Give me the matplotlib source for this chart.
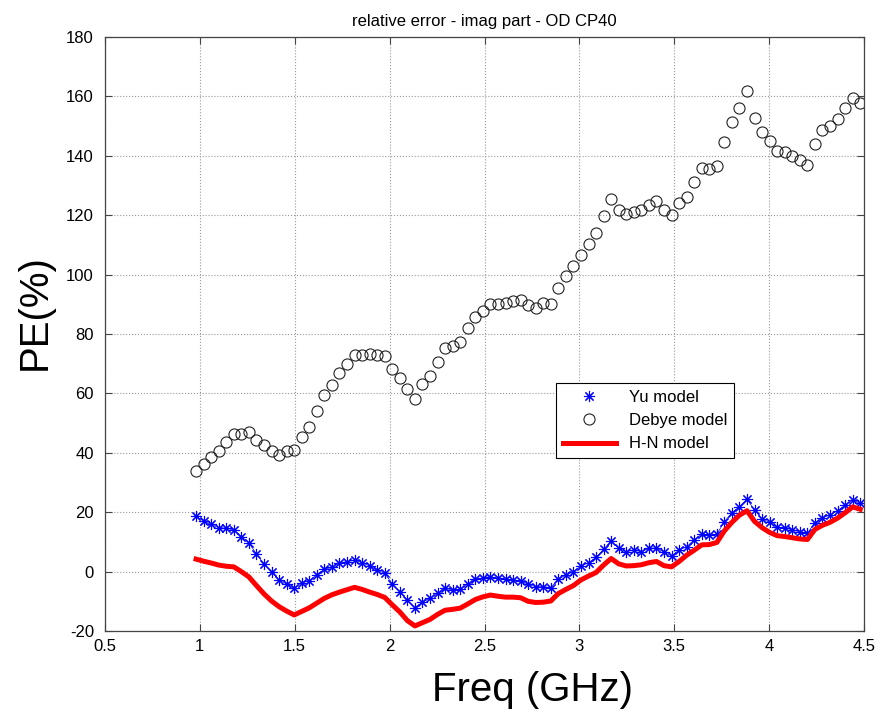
import numpy as np
import matplotlib
matplotlib.use('Agg')
import matplotlib.pyplot as plt

plt.rcParams['font.family'] = ['Liberation Sans', 'DejaVu Sans']
plt.rcParams['axes.unicode_minus'] = False

# frequency grid (GHz)
freq = np.linspace(0.98, 4.48, 89)

yu = [18.7, 17.0, 15.9, 14.8, 14.6, 14.0, 11.8, 9.7, 5.9, 2.6,
      -0.2, -2.8, -4.2, -5.6, -3.7, -3.1, -1.1, 0.8, 1.4, 3.0,
      3.3, 3.9, 3.0, 1.9, 0.5, -0.6, -4.2, -6.8, -9.6, -12.1,
      -10.3, -9.0, -7.3, -5.6, -6.2, -5.9, -4.2, -2.6, -2.1, -1.7,
      -2.3, -2.6, -2.8, -3.1, -4.3, -5.1, -5.1, -5.4, -2.6, -1.1,
      0.0, 1.9, 3.0, 4.8, 7.5, 10.3, 7.8, 6.7, 7.3, 6.7,
      7.8, 8.0, 6.5, 5.3, 7.3, 8.4, 10.6, 12.7, 12.3, 12.6,
      16.8, 19.8, 21.9, 24.4, 20.7, 17.7, 16.6, 14.9, 14.8, 14.0,
      13.4, 12.9, 16.5, 18.1, 19.1, 20.5, 22.4, 24.1, 23.0]

debye = [34.0, 36.2, 38.5, 40.5, 43.5, 46.2, 46.2, 46.9, 44.3, 42.5,
         40.7, 39.3, 40.6, 40.9, 45.2, 48.6, 54.2, 59.5, 62.8, 67.0,
         69.8, 72.8, 72.9, 73.3, 72.9, 72.6, 68.1, 65.1, 61.5, 58.1,
         63.2, 65.9, 70.7, 75.2, 76.0, 77.4, 82.1, 85.8, 87.7, 90.0,
         90.0, 90.3, 91.1, 91.4, 89.8, 88.9, 90.3, 90.1, 95.4, 99.5,
         102.9, 106.6, 110.2, 113.9, 119.7, 125.5, 121.8, 120.3, 121.0, 121.8,
         123.4, 124.8, 121.8, 120.1, 124.0, 126.0, 131.3, 136.0, 135.7, 136.7,
         144.7, 151.3, 156.2, 161.9, 152.8, 148.0, 145.0, 141.7, 141.3, 139.9,
         138.6, 137.0, 143.9, 148.7, 150.1, 152.3, 156.2, 159.4, 157.9]

hn = [4.2, 3.5, 2.9, 2.2, 1.8, 1.6, 0.0, -1.8, -4.7, -7.5,
      -9.9, -11.8, -13.3, -14.6, -13.4, -12.2, -10.6, -9.0, -7.8, -6.9,
      -6.1, -5.3, -6.0, -6.9, -7.7, -8.7, -11.2, -13.6, -16.5, -18.3,
      -17.2, -16.1, -14.4, -13.0, -12.7, -12.3, -10.9, -9.4, -8.5, -7.9,
      -8.3, -8.6, -8.6, -8.8, -10.0, -10.4, -10.3, -9.9, -7.4, -6.0,
      -4.7, -2.8, -1.5, -0.3, 2.2, 4.4, 2.6, 1.9, 2.0, 2.3,
      3.0, 3.4, 2.0, 1.6, 3.4, 5.5, 7.2, 9.0, 9.1, 9.8,
      13.7, 16.6, 19.0, 20.5, 16.9, 14.8, 13.2, 12.1, 11.8, 11.4,
      11.0, 10.8, 14.2, 15.6, 16.6, 18.0, 19.8, 21.8, 21.0]

xticks = [0.5, 1, 1.5, 2, 2.5, 3, 3.5, 4, 4.5]
xticklabels = ['0.5', '1', '1.5', '2', '2.5', '3', '3.5', '4', '4.5']
yticks = list(range(-20, 181, 20))

fig = plt.figure(figsize=(8.81, 7.12), dpi=100)
ax = fig.add_axes([105/881, 1 - 631/712, 759/881, 594/712])

star = (8, 2, 0)
ax.plot(freq, yu, '-', color='blue', lw=0.5)
ax.plot(freq, yu, linestyle='none', marker=star, ms=8, mew=0.8,
        color='blue', label='Yu model')
ax.plot(freq, debye, linestyle='none', marker='o', ms=8, mfc='none',
        mec='#222222', mew=0.8, label='Debye model')
ax.plot(freq, hn, '-', color='red', lw=3.6, label='H-N model')

ax.set_xlim(0.5, 4.5)
ax.set_ylim(-20, 180)
ax.set_xticks(xticks)
ax.set_xticklabels(xticklabels)
ax.set_yticks(yticks)
ax.tick_params(direction='in', top=True, right=True, length=5,
               labelsize=12, color='#444444')
ax.tick_params(axis='y', pad=8)
ax.tick_params(axis='x', pad=6)
for s in ax.spines.values():
    s.set_color('#444444')
    s.set_linewidth(0.9)
ax.grid(True, linestyle=':', color='0.6', lw=0.8)
ax.set_axisbelow(True)

ax.set_title('relative error - imag part - OD CP40', fontsize=12, pad=8)
ax.set_xlabel('Freq (GHz)', fontsize=29, va='center')
ax.set_ylabel('PE(%)', fontsize=29, va='center', ha='center')
ax.xaxis.set_label_coords(0.5626, -0.099)
ax.yaxis.set_label_coords(-0.092, 0.537)

leg = ax.legend(loc='upper left', bbox_to_anchor=(0.594, 0.4175),
                borderaxespad=0, fontsize=12, fancybox=False,
                edgecolor='black', framealpha=1, handlelength=3.2,
                labelspacing=0.5)
leg.get_frame().set_linewidth(0.8)

fig.savefig('out.png', dpi=100)
